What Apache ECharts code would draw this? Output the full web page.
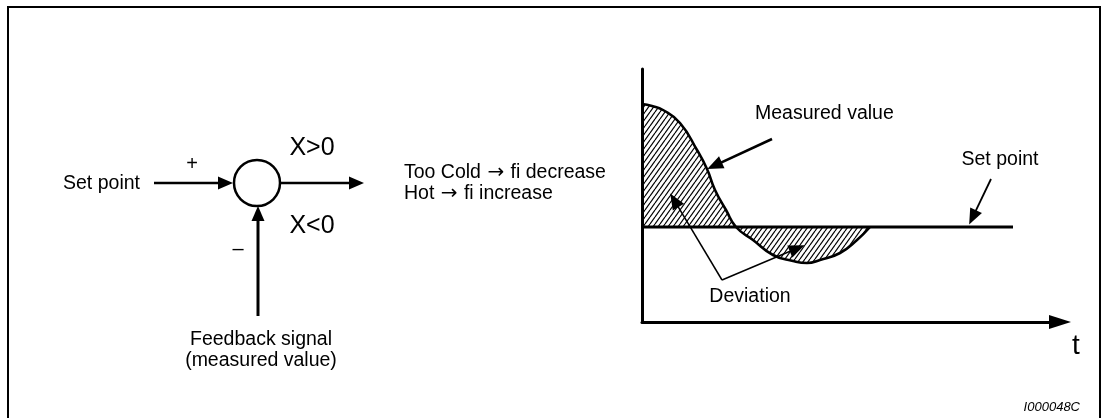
<!DOCTYPE html>
<html>
<head>
<meta charset="utf-8">
<script src="https://cdn.jsdelivr.net/npm/echarts@6/dist/echarts.min.js"></script>
<style>
html,body{margin:0;padding:0;background:#fff;}
#chart{width:1105px;height:418px;}
</style>
</head>
<body>
<div id="chart"></div>
<script>
// ---- Data (time t, measured value) ----
const curveT = [0, 10, 21, 38, 55, 65, 73, 84, 94, 111, 131, 151, 165, 178, 198, 215, 228];
const curveV = [218, 216, 212, 199, 172, 153, 132, 112, 95, 82, 67, 61, 59, 62, 69, 82, 95];
const setPointValue = 95;
const setPointT = [0, 371];
const axisMaxT = 418;
const axisMaxV = 253;

// ---- Annotation arrows in data coordinates [from, to] ----
const arrowMeasured = [[130, 183], [72.5, 156.4]];
const arrowSetPoint = [[349, 143], [330.6, 104.6]];
const arrowDeviation1 = [[80, 42], [32.3, 121.7]];
const arrowDeviation2 = [[80, 42], [155.2, 73.7]];

const FONT = '"Liberation Sans", Arial, sans-serif';

// hatch pattern
function makeHatch() {
  const w = 5, h = 7;
  const c = document.createElement('canvas');
  c.width = w; c.height = h;
  const ctx = c.getContext('2d');
  ctx.strokeStyle = '#000';
  ctx.lineWidth = 1.2;
  for (const x0 of [-w, 0, w]) {
    ctx.beginPath();
    ctx.moveTo(x0, h);
    ctx.lineTo(x0 + w, 0);
    ctx.stroke();
  }
  return c;
}

const chart = echarts.init(document.getElementById('chart'), null, {renderer: 'canvas'});

function txt(text, x, y, size, align, extra) {
  return Object.assign({
    type: 'text', x: x, y: y, silent: true,
    style: {
      text: text, fill: '#000',
      font: size + 'px ' + FONT,
      align: align, textAlign: align,
      verticalAlign: 'middle', textVerticalAlign: 'middle'
    }
  }, extra || {});
}
function arrowTxt(before, after, x, y) {
  return {
    type: 'text', x: x, y: y, silent: true,
    style: {
      text: before + '{a|\u2192}' + after, fill: '#000',
      font: '19.5px ' + FONT, fontSize: 19.5, fontFamily: FONT,
      align: 'left', textAlign: 'left',
      verticalAlign: 'middle', textVerticalAlign: 'middle',
      rich: {a: {fontFamily: '"DejaVu Sans"', fontSize: 20, fill: '#000', padding: [0, 1, 0, 1]}}
    }
  };
}
function seg(x1, y1, x2, y2, w) {
  return {type: 'line', silent: true, shape: {x1, y1, x2, y2}, style: {stroke: '#000', lineWidth: w}};
}
function poly(points) {
  return {type: 'polygon', silent: true, shape: {points}, style: {fill: '#000'}};
}

const graphics = [
  // frame
  {type: 'rect', silent: true, shape: {x: 8, y: 7, width: 1092, height: 440}, style: {fill: null, stroke: '#000', lineWidth: 2}},
  // block diagram
  txt('Set point', 63, 184, 19.5, 'left'),
  seg(154, 183, 220, 183, 2.3),
  poly([[233, 183], [218, 176.5], [218, 189.5]]),
  txt('+', 192, 164, 20, 'center'),
  {type: 'circle', silent: true, shape: {cx: 257, cy: 183, r: 23}, style: {fill: null, stroke: '#000', lineWidth: 2.5}},
  seg(281, 183, 352, 183, 2.3),
  poly([[364, 183], [349, 176.5], [349, 189.5]]),
  txt('X>0', 312, 148, 25, 'center'),
  txt('X<0', 312, 226, 25, 'center'),
  txt('\u2013', 238, 249, 20, 'center'),
  seg(258, 316, 258, 218, 3),
  poly([[258, 206], [251.5, 221], [264.5, 221]]),
  txt('Feedback signal', 261, 340, 19.5, 'center'),
  txt('(measured value)', 261, 361, 19.5, 'center'),
  arrowTxt('Too Cold ', ' fi decrease', 404, 173),
  arrowTxt('Hot ', ' fi increase', 404, 194),
  // chart labels
  txt('Measured value', 755, 114, 19.5, 'left'),
  txt('Set point', 1000, 160, 19.5, 'center'),
  txt('Deviation', 750, 297, 19.5, 'center'),
  txt('t', 1076, 346, 28, 'center'),
  {type: 'text', x: 1080, y: 407, silent: true,
   style: {text: 'I000048C', fill: '#000', font: 'italic 13px ' + FONT,
           align: 'right', textAlign: 'right', verticalAlign: 'middle', textVerticalAlign: 'middle'}}
];

function arrowItem(pair, width) {
  return [{coord: pair[0], lineStyle: {width: width}}, {coord: pair[1]}];
}

const option = {
  animation: false,
  backgroundColor: '#fff',
  grid: {left: 642, top: 69, width: axisMaxT, height: axisMaxV, containLabel: false},
  xAxis: {
    type: 'value', min: 0, max: axisMaxT,
    axisLine: {show: true, onZero: false, symbol: ['none', 'triangle'], symbolSize: [14, 22],
               lineStyle: {color: '#000', width: 3}},
    axisTick: {show: false}, axisLabel: {show: false}, splitLine: {show: false}
  },
  yAxis: {
    type: 'value', min: 0, max: axisMaxV,
    axisLine: {show: true, onZero: false, lineStyle: {color: '#000', width: 3}},
    axisTick: {show: false}, axisLabel: {show: false}, splitLine: {show: false}
  },
  series: [
    {
      name: 'Measured value',
      type: 'line',
      data: curveT.map((t, i) => [t, curveV[i]]),
      smooth: true,
      showSymbol: false,
      symbol: 'none',
      z: 2,
      lineStyle: {color: '#000', width: 2.6},
      areaStyle: {origin: setPointValue, color: {image: makeHatch(), repeat: 'repeat'}, opacity: 1}
    },
    {
      name: 'Set point',
      type: 'line',
      data: setPointT.map(t => [t, setPointValue]),
      symbol: 'none',
      z: 3,
      lineStyle: {color: '#000', width: 3},
      markLine: {
        silent: true,
        animation: false,
        symbol: ['none', 'triangle'],
        symbolSize: [13, 16],
        label: {show: false},
        itemStyle: {color: '#000'},
        lineStyle: {color: '#000', type: 'solid', width: 1.6},
        emphasis: {disabled: true},
        data: [
          arrowItem(arrowMeasured, 2.6),
          arrowItem(arrowSetPoint, 1.8),
          arrowItem(arrowDeviation1, 1.5),
          arrowItem(arrowDeviation2, 1.5)
        ]
      }
    }
  ],
  graphic: {elements: graphics}
};
chart.setOption(option);
</script>
</body>
</html>
